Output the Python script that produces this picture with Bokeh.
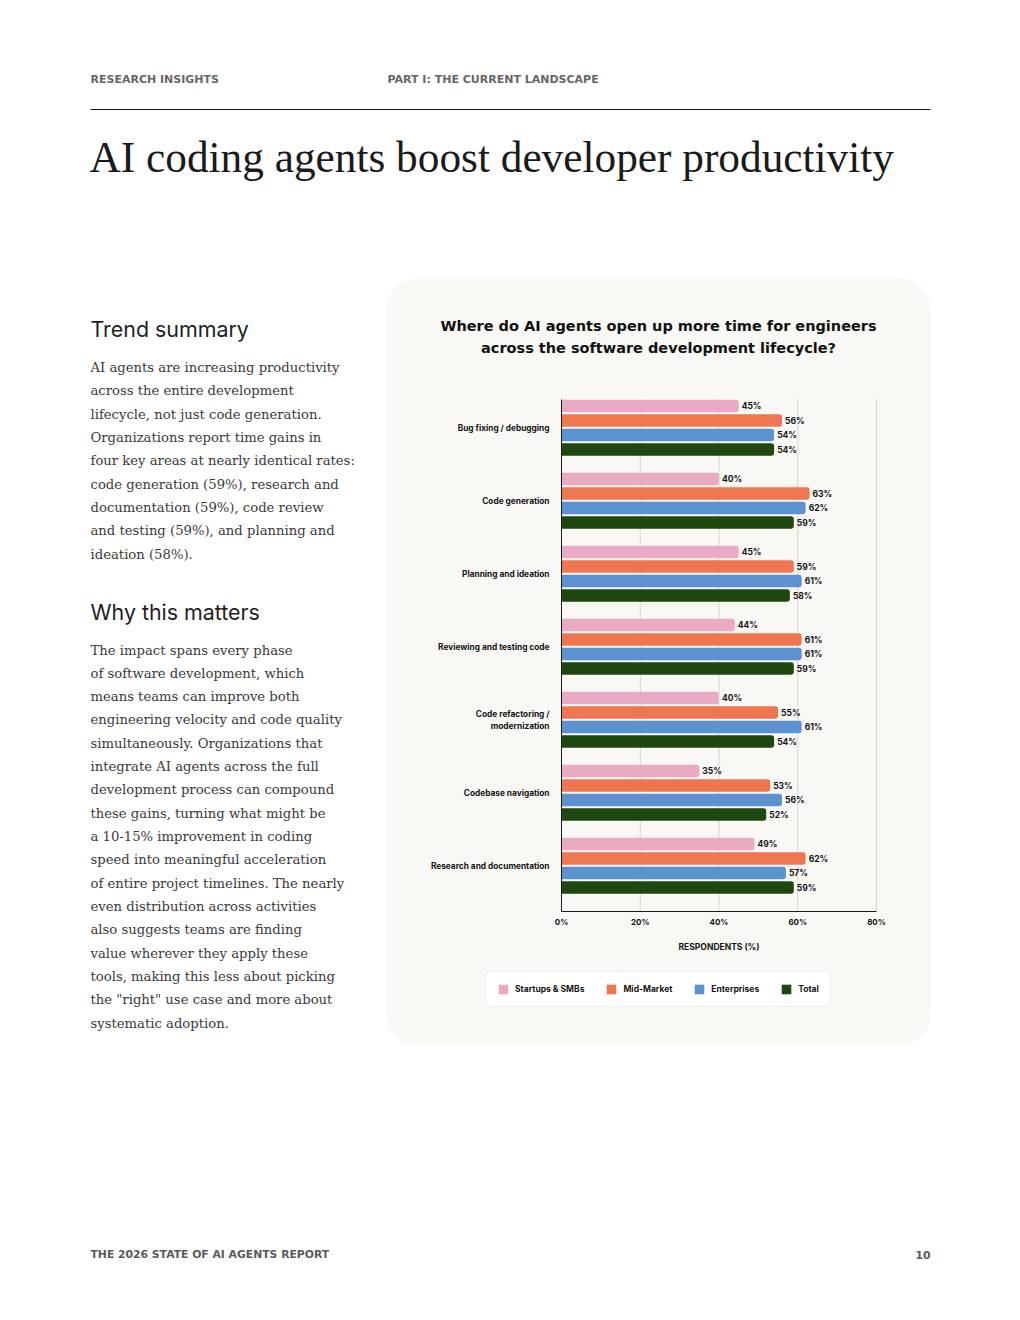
from bokeh.plotting import figure
from bokeh.models import (Range1d, LinearAxis, FixedTicker, PrintfTickFormatter, Label,
                          BoxAnnotation, ColumnDataSource, Legend, LegendItem, HBar)
from bokeh.transform import dodge
from bokeh.core.properties import value
from bokeh.embed import file_html
from bokeh.resources import INLINE

# ---------------- data ----------------
categories = ["Bug fixing / debugging", "Code generation", "Planning and ideation",
              "Reviewing and testing code", "Code refactoring /\nmodernization",
              "Codebase navigation", "Research and documentation"]
series = ["Startups & SMBs", "Mid-Market", "Enterprises", "Total"]
startups = [45, 40, 45, 44, 40, 35, 49]
mid_market = [56, 63, 59, 61, 55, 53, 62]
enterprises = [54, 62, 61, 61, 61, 56, 57]
total = [54, 59, 58, 59, 54, 52, 59]
x_ticks = [0, 20, 40, 60, 80]

chart_title = ["Where do AI agents open up more time for engineers",
               "across the software development lifecycle?"]
x_label = "RESPONDENTS (%)"

header_left = "RESEARCH INSIGHTS"
header_mid = "PART I: THE CURRENT LANDSCAPE"
page_title = "AI coding agents boost developer productivity"
h_trend = "Trend summary"
trend_lines = ["AI agents are increasing productivity",
               "across the entire development",
               "lifecycle, not just code generation.",
               "Organizations report time gains in",
               "four key areas at nearly identical rates:",
               "code generation (59%), research and",
               "documentation (59%), code review",
               "and testing (59%), and planning and",
               "ideation (58%)."]
h_why = "Why this matters"
why_lines = ["The impact spans every phase",
             "of software development, which",
             "means teams can improve both",
             "engineering velocity and code quality",
             "simultaneously. Organizations that",
             "integrate AI agents across the full",
             "development process can compound",
             "these gains, turning what might be",
             "a 10-15% improvement in coding",
             "speed into meaningful acceleration",
             "of entire project timelines. The nearly",
             "even distribution across activities",
             "also suggests teams are finding",
             "value wherever they apply these",
             "tools, making this less about picking",
             "the \"right\" use case and more about",
             "systematic adoption."]
footer_left = "THE 2026 STATE OF AI AGENTS REPORT"
footer_right = "10"

# ---------------- styles / geometry ----------------
colors = ["#e9aac4", "#ee7752", "#5b92cf", "#1f4710"]
W, H = 1004, 1304
PX0, PX80 = 561.0, 876.0          # page x of 0% and 80%
kx = (PX80 - PX0) / 80.0
Y0, STEP = 427.25, 73.0            # page y of first group centre, group pitch
ax_top = (399 - Y0) / STEP
ax_bot = (911 - Y0) / STEP
BAR_PITCH = 14.5 / STEP
BAR_H = 12.5 / STEP

p = figure(width=W, height=H, output_backend="svg", toolbar_location=None,
           x_range=Range1d((0 - PX0) / kx, (W - PX0) / kx),
           y_range=Range1d((H - Y0) / STEP, (0 - Y0) / STEP),
           x_axis_type=None, y_axis_type=None, min_border=0,
           outline_line_color=None, background_fill_color="white",
           border_fill_color="white")


def sx(px):
    return px


def sy(py):
    return H - py


# card background
card = BoxAnnotation(left=sx(386), right=sx(930), top=sy(278), bottom=sy(1045),
                     left_units="screen", right_units="screen",
                     top_units="screen", bottom_units="screen",
                     fill_color="#f9f8f4", fill_alpha=1.0, line_color=None,
                     level="underlay")
if "border_radius" in BoxAnnotation.properties():
    card.border_radius = 30
p.add_layout(card)

# header rule
p.add_layout(BoxAnnotation(left=sx(90), right=sx(930), top=sy(108.5), bottom=sy(109.5),
                           left_units="screen", right_units="screen",
                           top_units="screen", bottom_units="screen",
                           fill_color="#1a1a1a", fill_alpha=1.0, line_color=None))

# gridlines
grid_ticks = x_ticks[1:]
p.segment(x0=grid_ticks, x1=grid_ticks, y0=[ax_top] * len(grid_ticks),
          y1=[ax_bot] * len(grid_ticks), line_color="#d5d5d3", line_width=1)

# bars
vals = [startups, mid_market, enterprises, total]
data = dict(idx=list(range(len(categories))))
for j, v in enumerate(vals):
    data[f"v{j}"] = v
    data[f"t{j}"] = [f"{a}%" for a in v]
src = ColumnDataSource(data)

renderers = []
for j in range(4):
    off = (j - 1.5) * BAR_PITCH
    r = p.hbar(y=dodge("idx", off), left=0, right=f"v{j}", height=BAR_H, source=src,
               fill_color=colors[j], line_color=None)
    if "border_radius" in HBar.properties():
        r.glyph.border_radius = (0, 3, 3, 0)
    renderers.append(r)
    p.text(x=f"v{j}", y=dodge("idx", off), text=f"t{j}", source=src, x_offset=3,
           text_baseline="middle", text_align="left", text_font=value("Inter"),
           text_font_style="bold", text_font_size="8.5px", text_color="#141414")

# axes
yaxis = LinearAxis(fixed_location=0, bounds=(ax_top, ax_bot),
                   ticker=FixedTicker(ticks=list(range(len(categories)))),
                   major_label_overrides={i: c for i, c in enumerate(categories)})
yaxis.axis_line_color = "#1a1a1a"
yaxis.axis_line_width = 1
yaxis.major_tick_line_color = None
yaxis.minor_tick_line_color = None
yaxis.major_tick_out = 0
yaxis.major_tick_in = 0
yaxis.minor_tick_out = 0
yaxis.major_label_standoff = 12
yaxis.major_label_text_font = "Inter"
yaxis.major_label_text_font_style = "bold"
yaxis.major_label_text_font_size = "8.3px"
yaxis.major_label_text_color = "#141414"
p.add_layout(yaxis, "left")

xaxis = LinearAxis(fixed_location=ax_bot, bounds=(0, 80),
                   ticker=FixedTicker(ticks=x_ticks),
                   formatter=PrintfTickFormatter(format="%d%%"),
                   axis_label=x_label)
xaxis.axis_line_color = "#1a1a1a"
xaxis.axis_line_width = 1
xaxis.major_tick_line_color = None
xaxis.minor_tick_line_color = None
xaxis.major_tick_out = 0
xaxis.major_tick_in = 0
xaxis.minor_tick_out = 0
xaxis.major_label_standoff = 5
xaxis.major_label_text_font = "Inter"
xaxis.major_label_text_font_style = "bold"
xaxis.major_label_text_font_size = "8px"
xaxis.major_label_text_color = "#141414"
xaxis.axis_label_standoff = 12
xaxis.axis_label_text_font = "Inter"
xaxis.axis_label_text_font_style = "bold"
xaxis.axis_label_text_font_size = "8.5px"
xaxis.axis_label_text_color = "#141414"
p.add_layout(xaxis, "below")

# legend
legend = Legend(items=[LegendItem(label=s, renderers=[r]) for s, r in zip(series, renderers)],
                orientation="horizontal", location=(sx(485), sy(1007)),
                background_fill_color="white", background_fill_alpha=1.0,
                border_line_color="#e3dfd6", border_line_width=1,
                label_text_font="Inter", label_text_font_style="bold",
                label_text_font_size="8.5px", label_text_color="#141414",
                glyph_width=12, glyph_height=12, label_standoff=6,
                spacing=21, padding=11, margin=0)
if "border_radius" in Legend.properties():
    legend.border_radius = 6
p.add_layout(legend)


def lab(text, px, py, size, font, color, style="normal", align="left"):
    p.add_layout(Label(x=sx(px), y=sy(py), x_units="screen", y_units="screen",
                       text=text, text_font=font, text_font_size=f"{size}px",
                       text_font_style=style, text_color=color, text_align=align,
                       text_baseline="alphabetic"))


# page texts
lab(header_left, 90, 79, 11, "DejaVu Sans", "#666666", "bold")
lab(header_mid, 387, 79, 11, "DejaVu Sans", "#666666", "bold")
lab(page_title, 89, 156, 43.3, "Liberation Serif", "#1a1a1a")
lab(h_trend, 90, 328, 21.4, "Inter", "#1f1f1f")
for i, t in enumerate(trend_lines):
    lab(t, 90, 367 + i * 23.33, 13.2, "DejaVu Serif", "#3a3a3a")
lab(h_why, 90, 611, 21.4, "Inter", "#1f1f1f")
for i, t in enumerate(why_lines):
    lab(t, 90, 649.5 + i * 23.33, 13.2, "DejaVu Serif", "#3a3a3a")
lab(footer_left, 90, 1254, 10.8, "DejaVu Sans", "#5a5a5a", "bold")
lab(footer_right, 930, 1254, 10.8, "DejaVu Sans", "#5a5a5a", "bold", "right")

# chart title
lab(chart_title[0], 658, 325, 14.5, "DejaVu Sans", "#111111", "bold", "center")
lab(chart_title[1], 658, 347, 14.5, "DejaVu Sans", "#111111", "bold", "center")

open("out.html", "w").write(file_html(p, INLINE))
